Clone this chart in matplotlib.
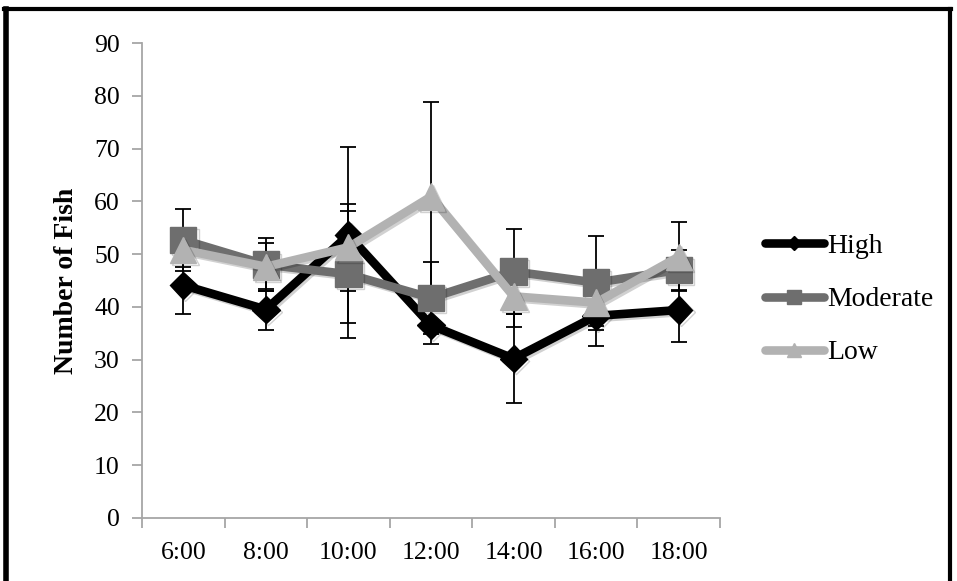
import matplotlib
matplotlib.use('Agg')
import numpy as np
import matplotlib.pyplot as plt
import matplotlib.patheffects as pe
from matplotlib.lines import Line2D

# sampling times and mean fish counts (+/- error) per density group
times = ['6:00', '8:00', '10:00', '12:00', '14:00', '16:00', '18:00']

high = [44.1, 39.5, 53.6, 36.5, 30.2, 38.3, 39.4]
high_err = [5.5, 3.9, 16.7, 3.5, 8.5, 5.7, 6.0]

moderate = [52.7, 48.0, 46.2, 41.7, 46.7, 44.6, 47.0]
moderate_err = [5.9, 5.0, 12.0, 6.8, 8.0, 8.9, 3.8]

low = [50.8, 47.6, 51.3, 60.9, 42.0, 40.8, 49.5]
low_err = [3.2, 4.5, 8.2, 18.0, 5.9, 4.4, 6.5]

series = [
    ('High', high, high_err, '#000000', 'D', 14),
    ('Moderate', moderate, moderate_err, '#6e6e6e', 's', 19),
    ('Low', low, low_err, '#b2b2b2', '^', 19),
]

f_size = 18.5
plt.rcParams['font.family'] = ['Liberation Serif', 'DejaVu Serif']

fig = plt.figure(figsize=(9.57, 5.81), dpi=100)
ax = fig.add_axes([142/957, 1 - 518/581, 578/957, 475/581])

x = np.arange(len(times)) + 0.5
shadow = [pe.SimpleLineShadow(offset=(1.5, -1.5), alpha=0.18, shadow_color='black'), pe.Normal()]

z = 3
for name, vals, err, col, mk, ms in series:
    ax.errorbar(x, vals, yerr=err, fmt='none', ecolor='black', elinewidth=1.3,
                capsize=5.5, capthick=1.3, zorder=2)
    ax.plot(x, vals, color=col, lw=6.2, marker=mk, markersize=ms,
            markerfacecolor=col, markeredgecolor=col, label=name,
            solid_joinstyle='miter', zorder=z, path_effects=shadow)
    z += 1

ax.set_xlim(0, len(times))
ax.set_ylim(0, 90)
ax.set_yticks(range(0, 91, 10))
ax.set_xticks(range(0, len(times) + 1))
ax.set_xticklabels([])
ax.set_xticks(x, minor=True)
ax.set_xticklabels(times, minor=True)

for s in ['top', 'right']:
    ax.spines[s].set_visible(False)
for s in ['left', 'bottom']:
    ax.spines[s].set_color('#a6a6a6')
    ax.spines[s].set_linewidth(1.3)

ax.tick_params(axis='y', which='major', length=7, width=1.3, color='#a6a6a6',
               labelsize=f_size, pad=9)
ax.tick_params(axis='x', which='major', length=7, width=1.3, color='#a6a6a6')
ax.tick_params(axis='x', which='minor', length=0, labelsize=f_size, pad=17)

ax.set_ylabel('Number of Fish', fontsize=20, fontweight='bold', labelpad=11)

leg = ax.legend(loc='center left', bbox_to_anchor=(1.035, 0.46), frameon=False,
                fontsize=20, handlelength=2.1, handletextpad=0.12,
                labelspacing=1.0, markerscale=0.5)
for h in leg.legend_handles:
    h.set_solid_capstyle('round')
    h.set_path_effects([])

# black frame round the figure
for (x0, y0, x1, y1, lw) in [(5.5, 0, 5.5, 572.5, 4.0), (4, 572.5, 951, 572.5, 3.0),
                             (950, 0, 950, 572.5, 3.0)]:
    fig.add_artist(Line2D([x0/957, x1/957], [y0/581, y1/581], transform=fig.transFigure,
                          color='black', lw=lw))

fig.savefig('out.png', dpi=100)
